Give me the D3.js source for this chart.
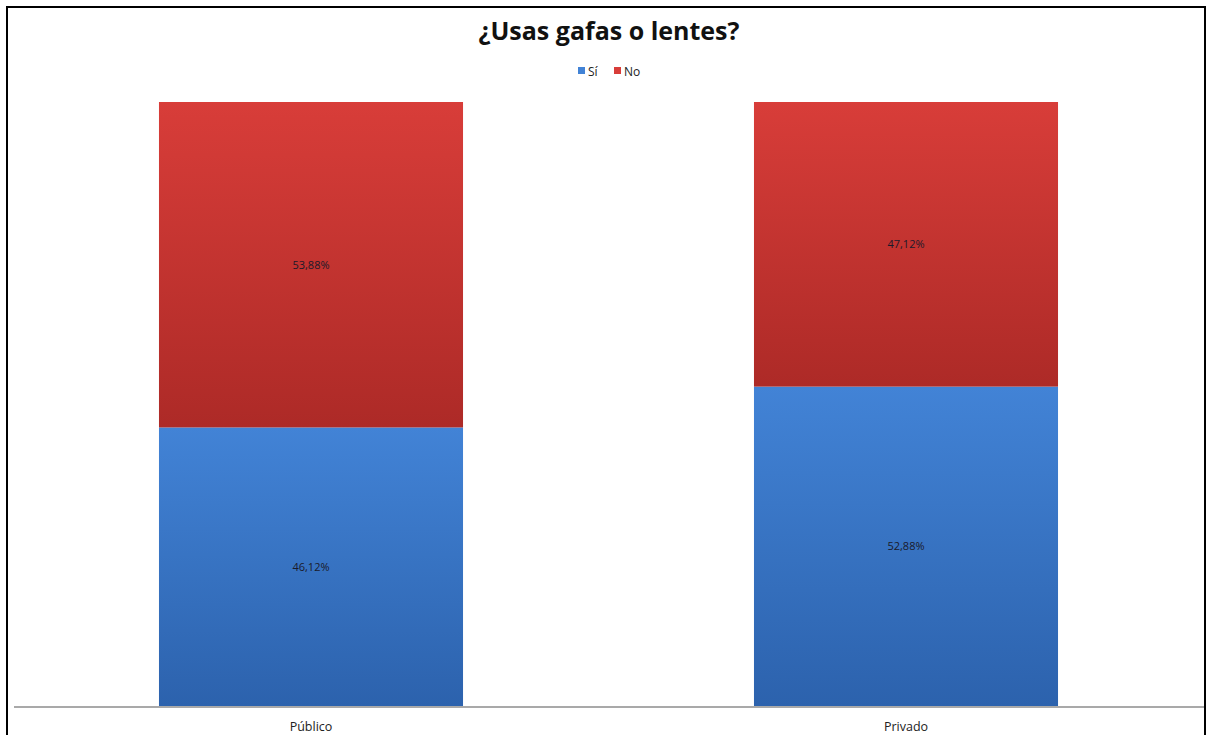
<!DOCTYPE html>
<html>
<head>
<meta charset="utf-8">
<script src="https://cdn.jsdelivr.net/npm/d3@7"></script>
<style>
  body { margin: 0; background: #fff; }
  svg text { font-family: "Open Sans", "DejaVu Sans", sans-serif; }
</style>
</head>
<body>
<div id="chart"></div>
<script>
// chart data
var categories = ["Público", "Privado"];
var seriesNames = ["Sí", "No"];
var siValues = [46.12, 52.88];
var noValues = [53.88, 47.12];
var seriesColors = {"Sí": ["#4283d6", "#2c62ad"], "No": ["#d83d39", "#ad2a27"]};

var width = 1211, height = 735;
var svg = d3.select("#chart").append("svg")
  .attr("width", width)
  .attr("height", height);

// frame
svg.append("rect")
  .attr("x", 7).attr("y", 7)
  .attr("width", 1198).attr("height", 740)
  .attr("fill", "none")
  .attr("stroke", "#000")
  .attr("stroke-width", 2);

var x = d3.scaleBand()
  .domain(categories)
  .range([13.5, 1203.5])
  .paddingInner(0.489)
  .paddingOuter(0.2445);

var y = d3.scaleLinear().domain([0, 100]).range([706, 102]);

var defs = svg.append("defs");
seriesNames.forEach(function(s, i) {
  var g = defs.append("linearGradient")
    .attr("id", "grad" + i)
    .attr("x1", 0).attr("y1", 0).attr("x2", 0).attr("y2", 1);
  g.append("stop").attr("offset", "0%").attr("stop-color", seriesColors[s][0]);
  g.append("stop").attr("offset", "100%").attr("stop-color", seriesColors[s][1]);
});

var rows = categories.map(function(c, i) {
  return {cat: c, "Sí": siValues[i], "No": noValues[i]};
});
var stacked = d3.stack().keys(seriesNames)(rows);

var fmt = function(v) { return v.toFixed(2).replace(".", ",") + "%"; };

var layers = svg.append("g").selectAll("g")
  .data(stacked)
  .enter().append("g")
  .attr("fill", function(d, i) { return "url(#grad" + i + ")"; });

layers.selectAll("rect")
  .data(function(d) { return d; })
  .enter().append("rect")
  .attr("x", function(d) { return x(d.data.cat); })
  .attr("y", function(d) { return y(d[1]); })
  .attr("width", x.bandwidth())
  .attr("height", function(d) { return y(d[0]) - y(d[1]); });

layers.selectAll("text")
  .data(function(d) { return d; })
  .enter().append("text")
  .attr("x", function(d) { return x(d.data.cat) + x.bandwidth() / 2; })
  .attr("y", function(d) { return (y(d[0]) + y(d[1])) / 2 + 4; })
  .attr("text-anchor", "middle")
  .attr("font-size", 11)
  .attr("fill", "#1a1a2a")
  .text(function(d) { return fmt(d[1] - d[0]); });

// category axis
var axis = svg.append("g")
  .attr("transform", "translate(0,706.5)")
  .call(d3.axisBottom(x).tickSize(0).tickPadding(16));
axis.select(".domain").attr("stroke", "#8c8c8c").attr("stroke-width", 1.5);
axis.selectAll("text")
  .attr("font-size", 12.5)
  .attr("fill", "#222")
  .style("font-family", "'Open Sans', 'DejaVu Sans', sans-serif");

// title
svg.append("text")
  .attr("x", 609).attr("y", 40)
  .attr("text-anchor", "middle")
  .attr("font-size", 25)
  .attr("font-weight", "bold")
  .attr("fill", "#111")
  .text("¿Usas gafas o lentes?");

// legend
var legend = svg.append("g").attr("transform", "translate(578,71)");
var legendX = [0, 36];
seriesNames.forEach(function(s, i) {
  legend.append("rect")
    .attr("x", legendX[i]).attr("y", -4)
    .attr("width", 7).attr("height", 7)
    .attr("fill", seriesColors[s][0]);
  legend.append("text")
    .attr("x", legendX[i] + 10).attr("y", 4.5)
    .attr("font-size", 12)
    .attr("fill", "#222")
    .text(s);
});
</script>
</body>
</html>
